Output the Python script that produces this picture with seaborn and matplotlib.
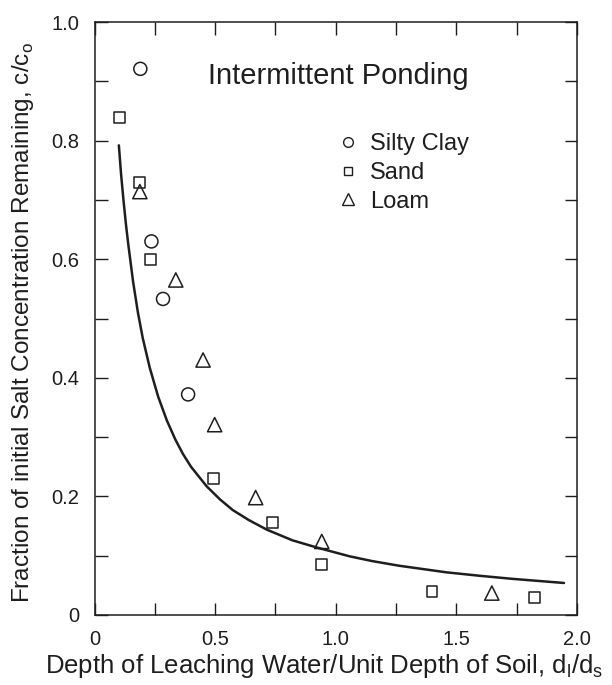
import matplotlib

matplotlib.use('Agg')
import matplotlib.pyplot as plt
from matplotlib.lines import Line2D
import numpy as np
import pandas as pd
import seaborn as sns

# points (x = d_l/d_s, y = c/c_o)
silty_clay_x = [0.190, 0.236, 0.284, 0.388]
silty_clay_y = [0.921, 0.630, 0.533, 0.372]

sand_x = [0.102, 0.188, 0.233, 0.495, 0.737, 0.942, 1.399, 1.822]
sand_y = [0.839, 0.730, 0.599, 0.230, 0.156, 0.085, 0.040, 0.029]

loam_x = [0.188, 0.337, 0.450, 0.498, 0.668, 0.942, 1.647]
loam_y = [0.714, 0.565, 0.430, 0.321, 0.198, 0.124, 0.037]

# fitted curve
curve_x = [0.101, 0.110, 0.120, 0.130, 0.140, 0.160, 0.180, 0.200, 0.229,
           0.264, 0.300, 0.335, 0.366, 0.400, 0.465, 0.520, 0.573, 0.640,
           0.714, 0.820, 0.920, 1.057, 1.150, 1.264, 1.458, 1.600, 1.731,
           1.946]
curve_y = [0.792, 0.744, 0.700, 0.660, 0.625, 0.562, 0.510, 0.467, 0.417,
           0.368, 0.328, 0.296, 0.272, 0.250, 0.217, 0.195, 0.177, 0.160,
           0.144, 0.126, 0.114, 0.099, 0.091, 0.083, 0.072, 0.066, 0.061,
           0.054]

soil_names = ['Silty Clay', 'Sand', 'Loam']
x_ticklabels = ['0', '', '0.5', '', '1.0', '', '1.5', '', '2.0']
y_ticklabels = ['0', '', '0.2', '', '0.4', '', '0.6', '', '0.8', '', '1.0']

df = pd.concat([
    pd.DataFrame({'x': silty_clay_x, 'y': silty_clay_y, 'soil': 'Silty Clay'}),
    pd.DataFrame({'x': sand_x, 'y': sand_y, 'soil': 'Sand'}),
    pd.DataFrame({'x': loam_x, 'y': loam_y, 'soil': 'Loam'}),
])

sns.set_style('ticks')
plt.rcParams['font.family'] = ['Liberation Sans', 'DejaVu Sans']
plt.rcParams['mathtext.fontset'] = 'custom'
plt.rcParams['mathtext.rm'] = 'Liberation Sans'

ink = '#1e1e1e'
markers = {'Silty Clay': 'o', 'Sand': 's', 'Loam': '^'}
sizes = {'Silty Clay': 88, 'Sand': 62, 'Loam': 105}

fig = plt.figure(figsize=(6.12, 6.85), dpi=100)
ax = fig.add_axes([94.5 / 612, 1 - 615 / 685, 482.5 / 612, 593 / 685])

sns.lineplot(x=curve_x, y=curve_y, color=ink, linewidth=1.8, ax=ax)

for name in soil_names:
    sub = df[df.soil == name]
    sns.scatterplot(data=sub, x='x', y='y', marker=markers[name], s=sizes[name],
                    facecolors='none', edgecolor=ink, linewidth=1.1,
                    legend=False, ax=ax, zorder=3)

ax.set_xlim(0, 2.0)
ax.set_ylim(0, 1.0)
ax.set_xticks(np.arange(0, 2.01, 0.25))
ax.set_xticklabels(x_ticklabels)
ax.set_yticks(np.arange(0, 1.001, 0.1))
ax.set_yticklabels(y_ticklabels)
ax.tick_params(direction='in', length=9, width=1.0, top=True, right=True,
               labelsize=14.5, pad=11, colors=ink)
for sp in ax.spines.values():
    sp.set_linewidth(1.1)
    sp.set_color(ink)

ax.set_xlabel('Depth of Leaching Water/Unit Depth of Soil, d$_\\mathregular{l}$/d$_\\mathregular{s}$',
              fontsize=18.5, color=ink)
ax.xaxis.set_label_coords(0.476, -0.062)
ax.set_ylabel('Fraction of initial Salt Concentration Remaining, c/c$_\\mathregular{o}$',
              fontsize=17.5, color=ink)
ax.yaxis.set_label_coords(-0.122, 0.494)

ax.text(1.01, 0.909, 'Intermittent Ponding', ha='center', va='center',
        fontsize=21, color=ink)

handles = [
    Line2D([], [], marker='o', ls='none', mfc='none', mec=ink, ms=7, mew=1.0),
    Line2D([], [], marker='s', ls='none', mfc='none', mec=ink, ms=6, mew=1.0),
    Line2D([], [], marker='^', ls='none', mfc='none', mec=ink, ms=8, mew=1.0),
]
leg = ax.legend(handles, soil_names, loc='upper left', bbox_to_anchor=(0.5005, 0.812),
                frameon=False, fontsize=17, handlelength=1.0, handletextpad=0.43,
                labelspacing=0.28, borderpad=0, borderaxespad=0)
for t in leg.get_texts():
    t.set_color(ink)

plt.savefig('out.png', dpi=100)
